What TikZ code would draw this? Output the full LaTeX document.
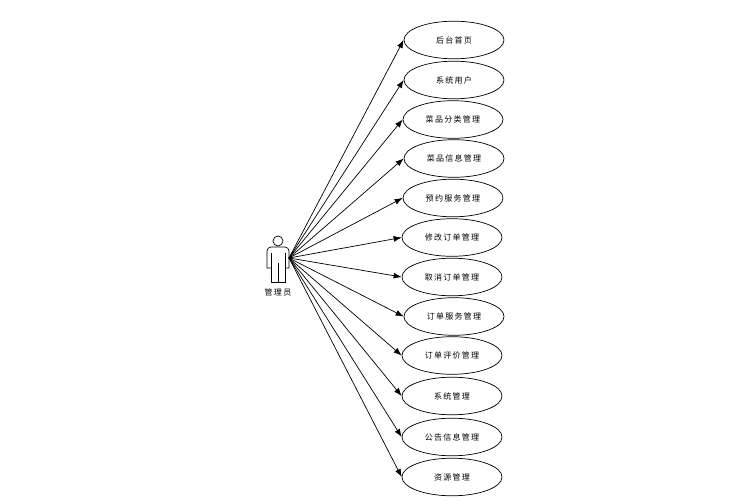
\documentclass[tikz,border=0pt]{standalone}
\usepackage{fontspec}
\usetikzlibrary{arrows.meta,shapes.geometric}
\newfontfamily\cjk[LetterSpace=16]{Noto Sans CJK SC}
\definecolor{ink}{HTML}{000000}
\tikzset{
  font=\cjk\fontsize{5.7pt}{7pt}\selectfont,
  usecase/.style={draw=ink, ellipse, line width=0.5pt, minimum width=2.5cm, minimum height=0.94cm, inner sep=0pt, text=ink},
  actorline/.style={draw=ink, line width=0.5pt},
  arrow/.style={-{Latex[length=2mm,width=1.5mm]}, draw=ink, line width=0.5pt},
  tag/.style={text=ink, inner sep=0pt},
}
\begin{document}
\begin{tikzpicture}[x=0.025cm,y=-0.025cm]
\useasboundingbox (0,0) rectangle (739,504);
% --- use cases (pixel coordinates of the reference)
\node[usecase] (home) at (454,40) {后台首页};
\node[usecase] (user) at (454,80) {系统用户};
\node[usecase] (dishtype) at (453,119.5) {菜品分类管理};
\node[usecase] (dishinfo) at (454,158.5) {菜品信息管理};
\node[usecase] (booking) at (453,198) {预约服务管理};
\node[usecase] (change) at (452,237.5) {修改订单管理};
\node[usecase] (cancel) at (452,277) {取消订单管理};
\node[usecase] (service) at (454,316.5) {订单服务管理};
\node[usecase] (review) at (452,355.5) {订单评价管理};
\node[usecase] (system) at (452,396) {系统管理};
\node[usecase] (notice) at (452,437) {公告信息管理};
\node[usecase] (resource) at (452,477) {资源管理};
% --- actor
\draw[actorline] (278,241) circle (5);
\draw[actorline] (271,268) -- (267,268) -- (267,251) arc (180:270:4) -- (285,247) arc (270:360:4) -- (289,268) -- (285,268);
\draw[actorline] (271,253) -- (271,282) -- (285,282) -- (285,253);
\draw[actorline] (278,263) -- (278,282);
\node[tag] (admin) at (278,292) {管理员};
\coordinate (hand) at (289,258);
% --- connectors
\foreach \n in {home, user, dishtype, dishinfo, booking, change, cancel, service, review, system, notice, resource} {\draw[arrow] (hand) -- (\n.west);}
\end{tikzpicture}
\end{document}
